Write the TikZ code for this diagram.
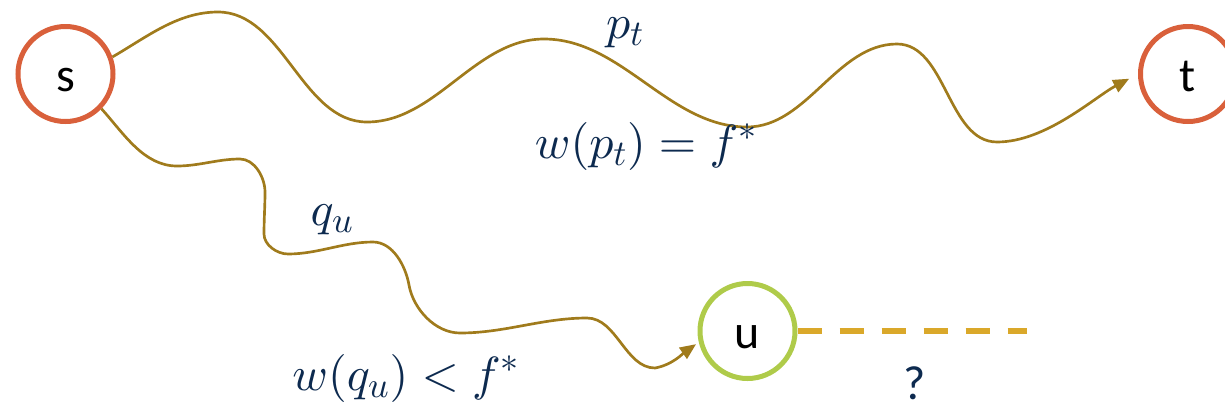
\documentclass[tikz,border=0pt]{standalone}
\usepackage{fontspec}
\setmainfont{Carlito}
\DeclareFontShape{OML}{cmm}{m}{it}{<->cmmi10}{}
\DeclareFontShape{OMS}{cmsy}{m}{n}{<->cmsy10}{}
\DeclareFontShape{OT1}{cmr}{m}{n}{<->cmr10}{}
\DeclareMathSizes{36}{36}{27}{20}
\usetikzlibrary{arrows.meta}
\definecolor{ringred}{HTML}{D9603B}
\definecolor{ringgreen}{HTML}{AFCB4A}
\definecolor{pathgold}{HTML}{A07B1C}
\definecolor{dashgold}{HTML}{DAA82A}
\definecolor{navy}{HTML}{0D2A4F}
\tikzset{
  vertex/.style={circle, draw, line width=3.75pt, minimum size=71.25pt, inner sep=0pt,
    text height=25.5pt, text depth=0pt, font=\fontsize{36}{40}\selectfont, text=black},
  wavy/.style={draw=pathgold, line width=2pt, -{Triangle[length=12pt,width=10pt]}, looseness=0.9},
  mathlbl/.style={text=navy, font=\fontsize{36}{44}\selectfont, inner sep=0pt, anchor=base},
  qlbl/.style={text=navy, font=\fontsize{36}{40}\selectfont, inner sep=0pt, anchor=base},
  unknown/.style={draw=dashgold, line width=4.5pt, dash pattern=on 18pt off 13.5pt}
}
\begin{document}
\begin{tikzpicture}[x=0.75pt, y=0.75pt]
\useasboundingbox (0,0) rectangle (1225,-412);
\node[vertex, draw=ringred] (s) at (65.5,-74) {s};
\node[vertex, draw=ringred] (t) at (1188,-74) {t};
\coordinate (dend) at (1027,-331);
\node[vertex, draw=ringgreen] (u) at (747.5,-331) {u};
\draw[unknown] (u.east) -- (dend);
\draw[wavy, shorten >=7.5pt] (s.20) to[out=30,in=180] (218,-12)
  to[out=0,in=180] (367,-122) to[out=0,in=180] (544,-39)
  to[out=0,in=180] (747,-127) to[out=0,in=180] (897,-44)
  to[out=0,in=180] (997,-142) to[out=0,in=208,looseness=0.8] (t.west);
\draw[wavy, shorten >=2.5pt] (s.-44) to[out=-48,in=180] (177,-166)
  to[out=0,in=180] (240,-159) to[out=0,in=90] (265,-192)
  to[out=-90,in=90] (264,-234) to[out=-90,in=180] (288,-254)
  to[out=0,in=180] (373,-242) to[out=0,in=100] (409,-285)
  to[out=-80,in=180] (460,-333) to[out=0,in=180] (587,-318)
  to[out=0,in=180] (655,-368) to[out=10,in=215] (u.193);
\node[mathlbl] (ptl) at (625,-38) {$p_t$};
\node[mathlbl] (wpt) at (646,-158) {$w(p_t) = f^*$};
\node[mathlbl] (qul) at (332,-225) {$q_u$};
\node[mathlbl] (wqu) at (406,-390) {$w(q_u) < f^*$};
\node[qlbl] (qm) at (915,-399) {?};
\end{tikzpicture}
\end{document}
